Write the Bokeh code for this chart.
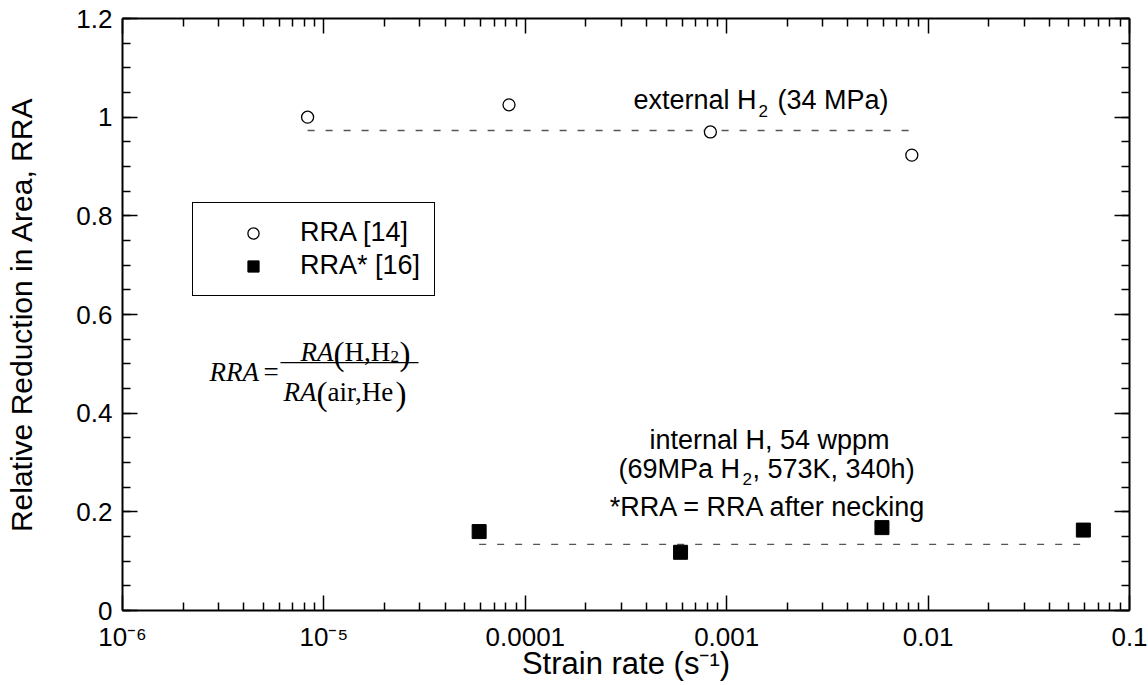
from math import pi
import numpy as np
from bokeh.plotting import figure
from bokeh.models import (FixedTicker, CustomJSTickFormatter, LinearAxis, LogAxis,
                          Label, Legend, LegendItem, BoxAnnotation)
from bokeh.embed import file_html
from bokeh.resources import INLINE

# ---------------- data ----------------
rra_rate = [8.3e-6, 8.3e-5, 8.3e-4, 8.3e-3]          # RRA [14], external H2
rra_value = [1.0, 1.025, 0.97, 0.923]
rras_rate = [5.9e-5, 5.9e-4, 5.9e-3, 5.9e-2]         # RRA* [16], internal H
rras_value = [0.160, 0.118, 0.168, 0.163]
ext_fit_rate = [8.3e-6, 8.3e-3]
ext_fit_value = [0.973, 0.973]
int_fit_rate = [5.9e-5, 5.9e-2]
int_fit_value = [0.134, 0.134]

x_ticks = [1e-6, 1e-5, 1e-4, 1e-3, 1e-2, 1e-1]
x_tick_labels = ["10⁻⁶", "10⁻⁵", "0.0001", "0.001", "0.01", "0.1"]
y_ticks = [0.0, 0.2, 0.4, 0.6, 0.8, 1.0, 1.2]
y_tick_labels = ["0", "0.2", "0.4", "0.6", "0.8", "1", "1.2"]
legend_labels = ["RRA [14]", "RRA* [16]"]

x_minor = [m * 10.0 ** e for e in range(-6, -1) for m in range(2, 10)]
y_minor = list(np.round(np.arange(0, 1.2001, 0.05), 3))

SANS = "Liberation Sans"
SERIF = "Liberation Serif"

W, H = 1148, 685
# frame geometry (pixels): left 122, right 1129, top 18, bottom 610
FL, FR, FT, FB = 122, 1129, 18, 610


def px_x(px):
    return 10 ** (-6 + 5 * (px - FL) / (FR - FL))


def px_y(py):
    return 1.2 * (FB - py) / (FB - FT)


p = figure(width=W, height=H, x_axis_type="log",
           x_range=(1e-6, 0.1), y_range=(0, 1.2),
           output_backend="svg", toolbar_location=None,
           min_border_left=FL, min_border_right=W - FR,
           min_border_top=FT, min_border_bottom=H - FB)
p.outline_line_color = None
p.xgrid.visible = False
p.ygrid.visible = False
p.background_fill_color = "white"
p.border_fill_color = "white"

fmt_code = """
let best = 0, bd = Infinity;
for (let i = 0; i < vals.length; i++) {
  const d = islog ? Math.abs(Math.log10(tick) - Math.log10(vals[i])) : Math.abs(tick - vals[i]);
  if (d < bd) { bd = d; best = i; }
}
return labs[best];
"""
xfmt = CustomJSTickFormatter(args=dict(vals=x_ticks, labs=x_tick_labels, islog=True), code=fmt_code)
yfmt = CustomJSTickFormatter(args=dict(vals=y_ticks, labs=y_tick_labels, islog=False), code=fmt_code)
blank = CustomJSTickFormatter(code="return '';")


def style(ax, show_labels):
    ax.axis_line_width = 2
    ax.axis_line_color = "black"
    ax.major_tick_in = 15
    ax.major_tick_out = 0
    ax.minor_tick_in = 8
    ax.minor_tick_out = 0
    ax.major_tick_line_width = 1.5
    ax.minor_tick_line_width = 1.5
    ax.major_tick_line_color = "black"
    ax.minor_tick_line_color = "black"
    ax.major_label_text_font = SANS
    ax.major_label_text_color = "black"
    ax.axis_label_text_font = SANS
    ax.axis_label_text_font_style = "normal"
    ax.axis_label_text_color = "black"
    if show_labels:
        ax.major_label_text_font_size = "26px"
    else:
        ax.major_label_text_font_size = "1px"
        ax.major_label_standoff = 0


bx = p.xaxis[0]
bx.ticker = FixedTicker(ticks=x_ticks, minor_ticks=x_minor)
bx.formatter = xfmt
style(bx, True)
bx.major_label_standoff = 11
bx.axis_label = "Strain rate (s⁻¹)"
bx.axis_label_text_font_size = "31px"
bx.axis_label_standoff = -9

ly = p.yaxis[0]
ly.ticker = FixedTicker(ticks=y_ticks, minor_ticks=y_minor)
ly.formatter = yfmt
style(ly, True)
ly.major_label_standoff = 10
ly.axis_label = "Relative Reduction in Area, RRA"
ly.axis_label_text_font_size = "30px"
ly.axis_label_standoff = 35

tx = LogAxis(ticker=FixedTicker(ticks=x_ticks, minor_ticks=x_minor), formatter=blank)
style(tx, False)
p.add_layout(tx, "above")
ry = LinearAxis(ticker=FixedTicker(ticks=y_ticks, minor_ticks=y_minor), formatter=blank)
style(ry, False)
p.add_layout(ry, "right")

# fit lines
p.line(ext_fit_rate, ext_fit_value, line_color="#555555", line_width=1.3, line_dash="7 11")
p.line(int_fit_rate, int_fit_value, line_color="#555555", line_width=1.3, line_dash="7 11")

# data
r1 = p.scatter(rra_rate, rra_value, marker="circle", size=12, fill_color="white",
               line_color="black", line_width=1.3)
r2 = p.scatter(rras_rate, rras_value, marker="square", size=14, fill_color="black",
               line_color="black", line_width=1)

legend = Legend(items=[LegendItem(label=legend_labels[0], renderers=[r1]),
                       LegendItem(label=legend_labels[1], renderers=[r2])],
                location=(192 - FL, FB - 296), margin=0, padding=14, spacing=2,
                glyph_width=92, glyph_height=28, label_height=28, label_standoff=1,
                label_text_font=SANS, label_text_font_size="27px", label_text_color="black",
                border_line_color="black", border_line_width=1, border_line_alpha=1,
                background_fill_color="white", background_fill_alpha=1)
p.add_layout(legend)


def lab(text, px, py, size, font=SANS, style="normal", align="left",
        baseline="alphabetic", angle=0):
    p.add_layout(Label(x=px_x(px), y=px_y(py), text=text, text_font=font,
                       text_font_size=f"{size}px", text_font_style=style,
                       text_align=align, text_baseline=baseline, angle=angle,
                       text_color="black"))


# annotations
lab("external H", 633, 99, 27)
lab("2", 758, 110, 17)
lab("(34 MPa)", 777, 99, 27)

lab("internal H, 54 wppm", 769, 439, 27, align="center")
lab("(69MPa H", 618, 468, 27)
lab("2", 742, 478, 17)
lab(", 573K, 340h)", 752, 468, 27)
lab("*RRA = RRA after necking", 768, 506, 27, align="center")

# formula RRA = RA(H,H2) / RA(air,He)
lab("RRA", 209, 371, 27, font=SERIF, style="italic")
lab("=", 263, 371, 27, font=SERIF)
lab("RA", 300, 351, 27, font=SERIF, style="italic")
lab("(", 333, 353, 33, font=SERIF)
lab("H,H", 344, 351, 27, font=SERIF)
lab("2", 390, 356, 17, font=SERIF)
lab(")", 399, 353, 33, font=SERIF)
lab("RA", 283, 391, 27, font=SERIF, style="italic")
lab("(", 316, 393, 33, font=SERIF)
lab("air,He", 327, 391, 27, font=SERIF)
lab(")", 395, 393, 33, font=SERIF)
p.add_layout(BoxAnnotation(left=px_x(280), right=px_x(418), top=px_y(361.5), bottom=px_y(362.7),
                           fill_color="black", fill_alpha=1, line_color=None))

open("out.html", "w").write(file_html(p, INLINE))
